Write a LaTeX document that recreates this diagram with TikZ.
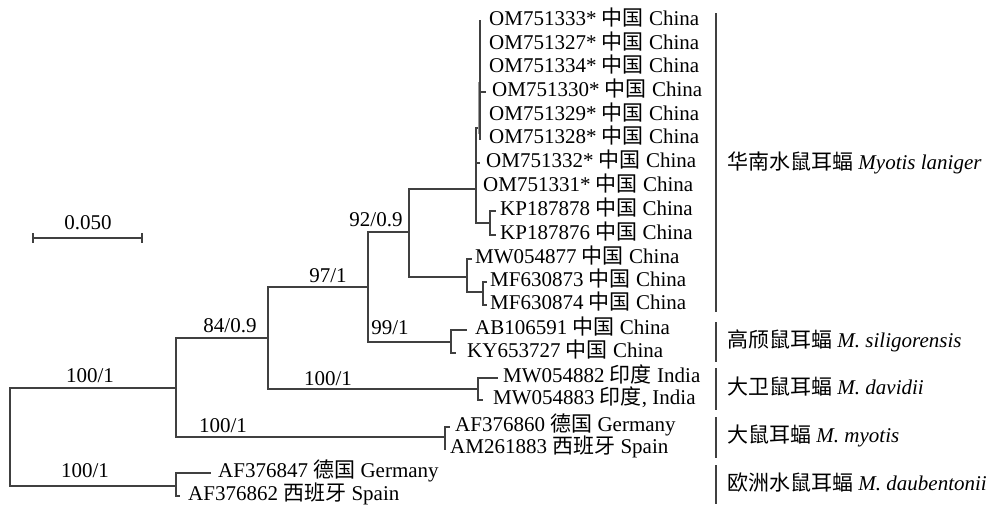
\documentclass[tikz,border=0pt]{standalone}
\usepackage{fontspec}
\setmainfont{Liberation Serif}
\newfontfamily\cjk{Noto Sans CJK SC}
\newcommand\leaf[6]{%
  \coordinate (#1) at (#3,#5);
  \node[lab] (#1t) at (#4,#5+4) {#6};
  \draw[br] (#2 |- #1) -- (#1);}
\begin{document}
\begin{tikzpicture}[x=1pt,y=-1pt,
  br/.style={line width=1.1pt, draw=black!75, line cap=rect},
  lab/.style={anchor=base west, inner sep=0pt, font=\fontsize{21}{24}\selectfont},
  bs/.style={anchor=base, inner sep=0pt, font=\fontsize{21}{24}\selectfont}]
\useasboundingbox (0,0) rectangle (993,504);
% internal nodes (x of vertical, y where attached to parent)
\coordinate (root) at (10,437);
\coordinate (A) at (176,388);
\coordinate (B) at (268,338);
\coordinate (C) at (368,287);
\coordinate (D) at (409,232);
\coordinate (L) at (476,189);
\coordinate (OM) at (480,128);
\coordinate (KP) at (490,223);
\coordinate (MWg) at (467,277);
\coordinate (MF) at (483,292);
\coordinate (SIL) at (451,342);
\coordinate (DAV) at (478,389);
\coordinate (MYO) at (445,437);
\coordinate (DAU) at (176,486);
% leaves
\leaf{l1}{OM}{480}{489}{21}{OM751333* {\cjk 中国} China}
\leaf{l2}{OM}{480}{489}{45}{OM751327* {\cjk 中国} China}
\leaf{l3}{OM}{480}{489}{68}{OM751334* {\cjk 中国} China}
\leaf{l4}{OM}{485}{492}{92}{OM751330* {\cjk 中国} China}
\leaf{l5}{OM}{480}{489}{116}{OM751329* {\cjk 中国} China}
\leaf{l6}{OM}{480}{489}{139}{OM751328* {\cjk 中国} China}
\leaf{l7}{L}{479}{486}{163}{OM751332* {\cjk 中国} China}
\leaf{l8}{L}{476}{483}{187}{OM751331* {\cjk 中国} China}
\leaf{l9}{KP}{495}{500}{211}{KP187878 {\cjk 中国} China}
\leaf{l10}{KP}{495}{500}{235}{KP187876 {\cjk 中国} China}
\leaf{l11}{MWg}{471}{475}{259}{MW054877 {\cjk 中国} China}
\leaf{l12}{MF}{486}{490}{282}{MF630873 {\cjk 中国} China}
\leaf{l13}{MF}{486}{490}{305}{MF630874 {\cjk 中国} China}
\leaf{l14}{SIL}{466}{475}{330}{AB106591 {\cjk 中国} China}
\leaf{l15}{SIL}{455}{467}{353}{KY653727 {\cjk 中国} China}
\leaf{l16}{DAV}{497}{503}{378}{MW054882 {\cjk 印度} India}
\leaf{l17}{DAV}{482}{493}{400}{MW054883 {\cjk 印度}, India}
\leaf{l18}{MYO}{449}{455}{427}{AF376860 {\cjk 德国} Germany}
\leaf{l19}{MYO}{445}{450}{449}{AM261883 {\cjk 西班牙} Spain}
\leaf{l20}{DAU}{210}{218}{473}{AF376847 {\cjk 德国} Germany}
\leaf{l21}{DAU}{179}{188}{496}{AF376862 {\cjk 西班牙} Spain}
% horizontal edges parent -> child
\foreach \p/\c in {root/A, root/DAU, A/B, A/MYO, B/C, B/DAV, C/D, C/SIL,
                   D/L, D/MWg, L/OM, L/KP, MWg/MF}
  \draw[br] (\p |- \c) -- (\c);
% vertical lines of internal nodes
\foreach \n/\t/\b in {root/A/DAU, A/B/MYO, B/C/DAV, C/D/SIL, D/L/MWg, L/OM/KP,
                      OM/l1/l6, KP/l9/l10, MWg/l11/MF, MF/l12/l13, SIL/l14/l15,
                      DAV/l16/l17, MYO/l18/l19, DAU/l20/l21}
  \draw[br] (\n |- \t) -- (\n |- \b);
\draw[line width=1.6pt, black!40] (478.3,82) -- (478.3,134);
% support values
\node[bs] (b1) at (90,382) {100/1};
\node[bs] (b2) at (230,332) {84/0.9};
\node[bs] (b3) at (328,282) {97/1};
\node[bs] (b4) at (376,226) {92/0.9};
\node[bs] (b5) at (390,334) {99/1};
\node[bs] (b6) at (328,385) {100/1};
\node[bs] (b7) at (223,432) {100/1};
\node[bs] (b8) at (85,477) {100/1};
% scale bar
\coordinate (s1) at (33,238);
\coordinate (s2) at (142,238);
\draw[br] (s1) -- (s2);
\draw[br] ([yshift=4pt]s1) -- ([yshift=-4pt]s1);
\draw[br] ([yshift=4pt]s2) -- ([yshift=-4pt]s2);
\node[bs] (sl) at (88,229) {0.050};
% group brackets
\coordinate (g1t) at (716,13);  \coordinate (g1b) at (716,312);
\coordinate (g2t) at (716,322); \coordinate (g2b) at (716,362);
\coordinate (g3t) at (716,368); \coordinate (g3b) at (716,410);
\coordinate (g4t) at (716,417); \coordinate (g4b) at (716,458);
\coordinate (g5t) at (716,465); \coordinate (g5b) at (716,504);
\foreach \g in {g1,g2,g3,g4,g5}
  \draw[line width=1.1pt, black!75] (\g t) -- (\g b);
\node[lab] (g1) at (727,169) {{\cjk 华南水鼠耳蝠} \textit{Myotis laniger}};
\node[lab] (g2) at (727,347) {{\cjk 高颀鼠耳蝠} \textit{M. siligorensis}};
\node[lab] (g3) at (727,394) {{\cjk 大卫鼠耳蝠} \textit{M. davidii}};
\node[lab] (g4) at (727,442) {{\cjk 大鼠耳蝠} \textit{M. myotis}};
\node[lab] (g5) at (727,490) {{\cjk 欧洲水鼠耳蝠} \textit{M. daubentonii}};
\end{tikzpicture}
\end{document}
